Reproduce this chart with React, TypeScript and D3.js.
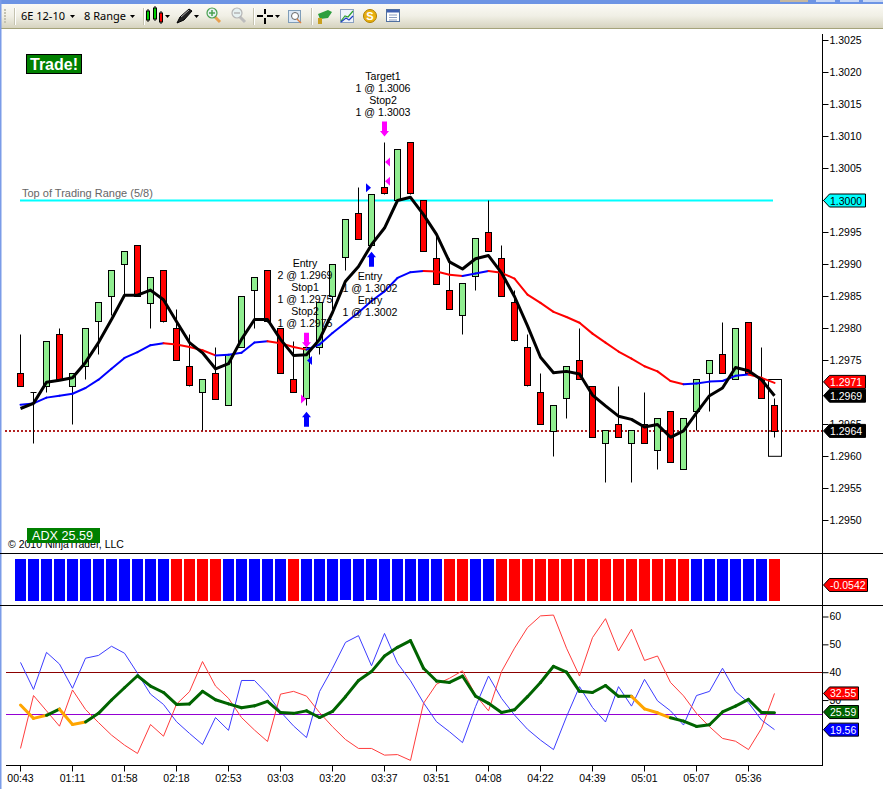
import React, { useEffect, useRef } from 'react';
import * as d3 from 'd3';

const W = 883;
const H = 789;
const FONT = '"Liberation Sans", Arial, sans-serif';

// price panel, in 1/10000 above 1
const opens = [12973,12970,12971,12979,12971,12974,12981,12985,12990,12993,12984,12989,12980,12974,12970,12973,12968,12977,12986,12989,12980,12972,12969,12977,12985,12991,12998,12993,13002,13000,13009,13000,12991,12986,12982,12988,12995,12991,12984,12977,12970,12964,12969,12975,12971,12962,12965,12962,12965,12961,12967,12958,12967,12973,12976,12972,12981,12972,12968];
const highs = [12979,12970,12978,12980,12973,12980,12984,12989,12992,12993,12988,12989,12983,12979,12972,12977,12976,12985,12988,12989,12980,12978,12977,12984,12990,12997,13002,13001,13009,13008,13009,13000,12995,12991,12987,12994,13000,12993,12986,12979,12973,12968,12974,12980,12971,12964,12971,12964,12970,12966,12967,12966,12972,12975,12981,12980,12981,12977,12969];
const lows = [12971,12962,12970,12972,12965,12972,12976,12982,12985,12985,12980,12981,12975,12971,12964,12969,12968,12977,12980,12981,12973,12970,12968,12976,12983,12989,12994,12993,13001,13000,13001,12992,12987,12983,12979,12986,12992,12985,12978,12971,12965,12960,12966,12972,12963,12956,12963,12956,12962,12958,12959,12958,12964,12967,12973,12972,12973,12969,12963];
const closes = [12971,12970,12978,12972,12973,12980,12984,12989,12992,12985,12988,12981,12975,12971,12972,12969,12976,12985,12988,12981,12973,12970,12977,12984,12990,12997,12994,13001,13001,13008,13001,12992,12987,12983,12987,12994,12992,12985,12978,12971,12965,12968,12974,12972,12963,12964,12963,12964,12962,12966,12959,12966,12972,12975,12973,12980,12973,12969,12964];

const fastLine = [12967.5,12968.3,12971.6,12971.9,12972.3,12974.7,12977.8,12981.4,12985.2,12985.2,12986,12984.5,12981.1,12977.8,12976.2,12973.7,12974.5,12978.3,12981.4,12981.4,12978.3,12975.8,12975.9,12978.3,12982.5,12987.4,12989.7,12993.1,12995.7,13000,13000.5,12997.8,12994.7,12990.4,12989.3,12990.9,12991.4,12988.7,12985,12980.4,12975.5,12973.1,12973.3,12972.9,12969.6,12967.9,12966.3,12965.8,12964.6,12965,12963,12964,12966.8,12969.5,12970.7,12973.9,12973.4,12972,12969.5];
const slowLine = [12968.1,12968.3,12969.2,12969.5,12969.8,12970.7,12972,12973.7,12975.4,12976.3,12977.4,12977.7,12977.5,12977.1,12976.6,12975.8,12975.9,12976.2,12977.8,12978,12977.7,12977.1,12976.7,12977.5,12979.3,12980.9,12982.5,12984.3,12985.8,12987.9,12988.8,12989,12988.9,12988.4,12988.2,12988.6,12989,12988.7,12987.8,12985.3,12984,12982.6,12981.8,12980.9,12979.2,12977.8,12976.4,12975.3,12974.1,12973.3,12971.8,12971.3,12971.4,12971.7,12971.8,12972.6,12972.8,12972.3,12971.5];

// 1.2970 sits under the value tags in the picture, so it has no label here
const priceTicks = [13025,13020,13015,13010,13005,13000,12995,12990,12985,12980,12975,12965,12960,12955,12950];
const timeLabels = ['00:43','01:11','01:58','02:18','02:53','03:03','03:20','03:37','03:51','04:08','04:22','04:39','05:01','05:07','05:36'];

const rangeLevel = 13000;
const dottedLevel = 12964;
const lastBarBox = [12972, 12960];

// trade markers: bar index and price in the same units
const upArrows = [[22, 12967], [27, 12992]];
const downArrows = [[22, 12977], [28, 13010]];
const rightFlags = [[22, 12969, '#ff00ff'], [27, 13002, '#0000ff']];
const leftFlags = [[22, 12975, '#0000ff'], [28, 13006, '#ff00ff'], [28, 13003, '#ff00ff']];
const tradeNotes = [
  { bar: 28, price: 13018.8, lines: ['Target1', '1 @ 1.3006', 'Stop2', '1 @ 1.3003'] },
  { bar: 22, price: 12989.6, lines: ['Entry', '2 @ 1.2969', 'Stop1', '1 @ 1.2975', 'Stop2', '1 @ 1.2975'] },
  { bar: 27, price: 12987.6, lines: ['Entry', '1 @ 1.3002', 'Entry', '1 @ 1.3002'] },
];

// middle panel, sign gives the colour
const trendBars = [1,1,1,1,1,1,1,1,1,1,1,1,-1,-1,-1,-1,1,1,1,1,1,-1,1,1,1,0.976,1,0.976,1,1,1,1,1,-1,-1,1,1,-1,-1,-1,-1,-1,-1,-1,-1,-1,-1,-1,-1,-1,-1,-1,1,1,1,1,1,1,-1];

// lower panel
const diPlus = [43.7,34,47.3,43.1,34.4,45.2,46.2,49.5,47,39.8,32.3,28.6,22.4,18.2,14.2,23.9,19.3,37.2,37.2,32.3,26,20.9,16.7,33.2,41.6,50.9,53.3,42.5,54.1,43.4,37.1,29.2,22.4,18.8,14.9,27.8,38.8,30.8,24.8,19.7,15.8,12.4,24.2,35,27.5,22.3,35,28,37.6,29.9,26.3,21.2,31.8,33.3,41.6,33.3,29.2,23,19.56];
const diMinus = [12.8,31.8,26.3,20.8,33.8,26.8,22.1,17.6,14,11,21.4,17.2,28.7,33.2,44,35.2,30.8,23.9,19.4,15.3,32.3,33.3,31.6,25.7,20.6,16,12.8,12.8,10.4,10.6,8.5,29,35.9,38,40.7,32,26.3,40.4,48.8,56.2,60.4,60.7,48.8,38.8,52.6,59.4,47.8,55.6,44.4,46,36.5,31.7,25.4,20.6,16.4,15.4,12.4,20,32.55];
const adx = [28.4,23.6,24.7,26.9,21.4,22.3,25.4,30.2,34.6,38.9,35.2,32.9,28.6,28.8,33.3,30.3,28.8,27.4,28.1,29.7,25.7,25.4,26.3,23.9,26.1,31.4,37.2,40.4,46,49.1,51.5,41.6,37,36.5,38.8,31.6,29,25.7,26.7,31.4,36.5,42.3,40.2,33.3,32.9,35.4,31.5,31.5,27,25.6,23.8,22.6,20.7,21.3,25.9,28,30.4,25.7,25.59];
const adxOrangeSegments = [0, 1, 3, 4, 47, 48, 49];
const adxTicks = [60, 50, 40, 30];
const adxLevels = [[40, '#8b0000'], [25, '#9400d3']];

function tagPath(w: number) {
  return `M0 0L6 -6.5H${w}V6.5H6Z`;
}

function App() {
  const svgRef = useRef(null);

  useEffect(() => {
    document.body.style.margin = '0';
    const svg = d3.select(svgRef.current);
    svg.selectAll('*').remove();

    const n = closes.length;
    const x = d3.scaleLinear().domain([0, n - 1]).range([20.5, 774.5]);
    const y = d3.scaleLinear().domain([12950, 13025]).range([520.5, 40.5]);
    const yAdx = d3.scaleLinear().domain([60, 40]).range([617, 672.7]);
    const barH = d3.scaleLinear().domain([0, 1]).range([0, 42]);
    const crisp = (v: number) => Math.floor(v) + 0.5;

    svg.append('rect').attr('width', W).attr('height', H).attr('fill', '#fff');

    // toolbar
    drawToolbar(svg);

    // fixed text behind the candles
    svg.append('text').attr('x', 22).attr('y', 197).attr('font-size', 11).attr('fill', '#666')
      .text('Top of Trading Range (5/8)');

    // reference levels
    svg.append('line').attr('x1', 5).attr('x2', 822).attr('y1', y(dottedLevel)).attr('y2', y(dottedLevel))
      .attr('stroke', '#b22222').attr('stroke-width', 2).attr('stroke-dasharray', '2 2');
    svg.append('line').attr('x1', 20).attr('x2', 773).attr('y1', y(rangeLevel)).attr('y2', y(rangeLevel))
      .attr('stroke', '#00ffff').attr('stroke-width', 2);

    // candles
    const idx = d3.range(n);
    const candles = svg.append('g');
    candles.selectAll('line').data(idx).join('line')
      .attr('x1', (i) => x(i)).attr('x2', (i) => x(i))
      .attr('y1', (i) => crisp(y(highs[i]))).attr('y2', (i) => crisp(y(lows[i])))
      .attr('stroke', '#000');
    candles.selectAll('rect').data(idx.filter((i) => opens[i] !== closes[i])).join('rect')
      .attr('x', (i) => x(i) - 3)
      .attr('width', 6)
      .attr('y', (i) => crisp(y(Math.max(opens[i], closes[i]))))
      .attr('height', (i) => Math.round(Math.abs(y(opens[i]) - y(closes[i]))))
      .attr('fill', (i) => (closes[i] > opens[i] ? '#90ee90' : '#ff0000'))
      .attr('stroke', '#000');
    candles.selectAll('.doji').data(idx.filter((i) => opens[i] === closes[i])).join('line')
      .attr('class', 'doji')
      .attr('x1', (i) => x(i) - 3).attr('x2', (i) => x(i) + 3)
      .attr('y1', (i) => crisp(y(opens[i]))).attr('y2', (i) => crisp(y(opens[i])))
      .attr('stroke', '#000');

    // box round the last bar
    svg.append('rect').attr('x', x(n - 1) - 6).attr('width', 13)
      .attr('y', crisp(y(lastBarBox[0]))).attr('height', y(lastBarBox[1]) - y(lastBarBox[0]))
      .attr('fill', 'none').attr('stroke', '#000');

    // moving averages, blue while rising and red while falling
    const priceLine = d3.line<number>().x((d, i) => x(i)).y((d) => y(d));
    svg.append('g').selectAll('line').data(d3.range(n - 1)).join('line')
      .attr('x1', (i) => x(i)).attr('x2', (i) => x(i + 1))
      .attr('y1', (i) => y(slowLine[i])).attr('y2', (i) => y(slowLine[i + 1]))
      .attr('stroke', (i) => (slowLine[i + 1] >= slowLine[i] ? '#0000ff' : '#ff0000'))
      .attr('stroke-width', 2).attr('stroke-linecap', 'round');
    svg.append('path').attr('d', priceLine(fastLine)).attr('fill', 'none')
      .attr('stroke', '#000').attr('stroke-width', 3).attr('stroke-linejoin', 'round');

    // trade markers
    const markers = svg.append('g');
    upArrows.forEach(([b, p]) => {
      markers.append('path').attr('d', 'M0 0L4.5 5.5H2.5V15H-2.5V5.5H-4.5Z')
        .attr('transform', `translate(${x(b)},${y(p)})`).attr('fill', '#0000ff');
    });
    downArrows.forEach(([b, p]) => {
      markers.append('path').attr('d', 'M0 0L4.5 -5.5H2.5V-15H-2.5V-5.5H-4.5Z')
        .attr('transform', `translate(${x(b)},${y(p)})`).attr('fill', '#ff00ff');
    });
    rightFlags.forEach(([b, p, c]) => {
      markers.append('path').attr('d', 'M-5.5 -4.5L-0.5 0L-5.5 4.5Z')
        .attr('transform', `translate(${x(b as number)},${y(p as number)})`).attr('fill', c as string);
    });
    leftFlags.forEach(([b, p, c]) => {
      markers.append('path').attr('d', 'M5.5 -4.5L0.5 0L5.5 4.5Z')
        .attr('transform', `translate(${x(b as number)},${y(p as number)})`).attr('fill', c as string);
    });
    tradeNotes.forEach((note) => {
      const t = svg.append('text').attr('text-anchor', 'middle').attr('font-size', 10.6).attr('fill', '#000');
      note.lines.forEach((s, k) => {
        t.append('tspan').attr('x', x(note.bar) - 1.5).attr('y', y(note.price) + k * 12).text(s);
      });
    });

    // Trade! button
    svg.append('rect').attr('x', 26.5).attr('y', 54.5).attr('width', 55).attr('height', 19)
      .attr('fill', '#008000').attr('stroke', '#000');
    svg.append('text').attr('x', 54).attr('y', 69.5).attr('text-anchor', 'middle')
      .attr('font-size', 16).attr('font-weight', 'bold').attr('fill', '#fff').text('Trade!');

    // copyright with the ADX box over it
    svg.append('text').attr('x', 8).attr('y', 548).attr('font-size', 10.5).attr('fill', '#000')
      .text('© 2010 NinjaTrader, LLC');
    svg.append('rect').attr('x', 27).attr('y', 528).attr('width', 73).attr('height', 15).attr('fill', '#008000');
    svg.append('text').attr('x', 32).attr('y', 540).attr('font-size', 12.6).attr('fill', '#fff').text('ADX 25.59');

    // middle panel bars
    svg.append('g').selectAll('rect').data(trendBars).join('rect')
      .attr('x', (d, i) => x(i) - 5.5)
      .attr('y', 559)
      .attr('width', 11)
      .attr('height', (d) => barH(Math.abs(d)))
      .attr('fill', (d) => (d > 0 ? '#0000ff' : '#ff0000'));

    // lower panel
    adxLevels.forEach(([v, c]) => {
      svg.append('line').attr('x1', 6).attr('x2', 822).attr('y1', crisp(yAdx(v as number))).attr('y2', crisp(yAdx(v as number)))
        .attr('stroke', c as string);
    });
    const adxLine = d3.line<number>().x((d, i) => x(i)).y((d) => yAdx(d));
    svg.append('path').attr('d', adxLine(diPlus)).attr('fill', 'none').attr('stroke', '#3c3cff').attr('stroke-width', 1);
    svg.append('path').attr('d', adxLine(diMinus)).attr('fill', 'none').attr('stroke', '#ff3c3c').attr('stroke-width', 1);
    svg.append('g').selectAll('line').data(d3.range(n - 1)).join('line')
      .attr('x1', (i) => x(i)).attr('x2', (i) => x(i + 1))
      .attr('y1', (i) => yAdx(adx[i])).attr('y2', (i) => yAdx(adx[i + 1]))
      .attr('stroke', (i) => (adxOrangeSegments.includes(i) ? '#ffa500' : '#006400'))
      .attr('stroke-width', 3).attr('stroke-linecap', 'round');

    // panel frame
    svg.append('g').call((g) => {
      g.append('line').attr('x1', 0).attr('x2', W).attr('y1', 553.5).attr('y2', 553.5).attr('stroke', '#000');
      g.append('line').attr('x1', 0).attr('x2', W).attr('y1', 605.5).attr('y2', 605.5).attr('stroke', '#000');
      g.append('line').attr('x1', 822.5).attr('x2', 822.5).attr('y1', 34).attr('y2', 766).attr('stroke', '#000');
      g.append('line').attr('x1', 6).attr('x2', 823).attr('y1', 765.5).attr('y2', 765.5).attr('stroke', '#000');
    });

    // axes
    const priceAxis = d3.axisRight(y).tickValues(priceTicks).tickSize(6).tickPadding(1).offset(0)
      .tickFormat((d) => d3.format('.4f')(+d / 10000));
    const gp = svg.append('g').attr('transform', 'translate(822.5,0)').call(priceAxis);
    gp.select('.domain').remove();
    const adxAxis = d3.axisRight(yAdx).tickValues(adxTicks).tickSize(6).tickPadding(1).offset(0);
    const ga = svg.append('g').attr('transform', 'translate(822.5,0)').call(adxAxis);
    ga.select('.domain').remove();
    const timeScale = d3.scalePoint<string>().domain(timeLabels).range([x(0), x(56)]);
    const gt = svg.append('g').attr('transform', 'translate(0,765.5)')
      .call(d3.axisBottom(timeScale).tickSize(6).tickPadding(3).offset(0));
    gt.select('.domain').remove();
    [gp, ga, gt].forEach((g) => {
      g.attr('font-family', FONT).attr('font-size', 10.5);
      g.selectAll('text').attr('fill', '#000');
      g.selectAll('line').attr('stroke', '#000');
    });

    // value tags on the axis
    const addTag = (cy: number, w: number, label: string, fill: string, color: string) => {
      const g = svg.append('g').attr('transform', `translate(823.5,${cy})`);
      g.append('path').attr('d', tagPath(w)).attr('fill', fill).attr('stroke', '#000');
      g.append('text').attr('x', 6.5).attr('y', 4).attr('font-size', 10.5).attr('fill', color).text(label);
    };
    addTag(y(rangeLevel), 42, '1.3000', '#00ffff', '#000');
    addTag(y(slowLine[n - 1]) - 1, 42, '1.2971', '#ff0000', '#fff');
    addTag(y(fastLine[n - 1]), 42, '1.2969', '#000', '#fff');
    addTag(y(dottedLevel), 42, '1.2964', '#000', '#fff');
    addTag(585, 44, '-0.0542', '#ff0000', '#fff');
    addTag(yAdx(diMinus[n - 1]), 35, '32.55', '#ff0000', '#fff');
    addTag(yAdx(adx[n - 1]) - 0.8, 35, '25.59', '#006400', '#fff');
    addTag(yAdx(diPlus[n - 1]), 35, '19.56', '#0000ff', '#fff');
  }, []);

  return (
    <svg
      ref={svgRef}
      width={W}
      height={H}
      viewBox={`0 0 ${W} ${H}`}
      style={{ position: 'absolute', left: 0, top: 0, display: 'block', fontFamily: FONT }}
    />
  );
}

function drawToolbar(svg: any) {
  const defs = svg.append('defs');
  const grad = defs.append('linearGradient').attr('id', 'bar').attr('x1', 0).attr('x2', 0).attr('y1', 0).attr('y2', 1);
  grad.append('stop').attr('offset', '0').attr('stop-color', '#fbfaf5');
  grad.append('stop').attr('offset', '0.5').attr('stop-color', '#f0efe5');
  grad.append('stop').attr('offset', '1').attr('stop-color', '#d6d3bf');

  svg.append('rect').attr('width', W).attr('height', 4).attr('fill', '#6d94e4');
  [[780, 28, '#c6b8a0'], [816, 19, '#c9d8f5'], [840, 19, '#c9d8f5'], [863, 20, '#c9d8f5']].forEach(([tx, tw, c]) => {
    svg.append('rect').attr('x', tx).attr('width', tw).attr('height', 2).attr('fill', c);
  });
  svg.append('rect').attr('y', 4).attr('width', W).attr('height', 24).attr('fill', 'url(#bar)');
  svg.append('rect').attr('y', 28).attr('width', W).attr('height', 1).attr('fill', '#a5a37a');
  svg.append('rect').attr('y', 0).attr('width', 1.5).attr('height', H).attr('fill', '#7b9ce8');

  const t = svg.append('g');
  [9, 12, 15, 18, 21].forEach((dy) => t.append('rect').attr('x', 4).attr('y', dy).attr('width', 2).attr('height', 2).attr('fill', '#c4c2b2'));
  [14, 143, 253, 311].forEach((sx) => {
    t.append('line').attr('x1', sx + 0.5).attr('x2', sx + 0.5).attr('y1', 8).attr('y2', 25).attr('stroke', '#c5c3b0');
    t.append('line').attr('x1', sx + 1.5).attr('x2', sx + 1.5).attr('y1', 8).attr('y2', 25).attr('stroke', '#fff');
  });
  t.append('text').attr('x', 21).attr('y', 20).attr('font-size', 11).attr('font-family', '"Noto Sans"').attr('fill', '#000').text('6E 12-10');
  t.append('text').attr('x', 84).attr('y', 20).attr('font-size', 11).attr('font-family', '"Noto Sans"').attr('fill', '#000').text('8 Range');
  [72.5, 132.5, 167.5, 196.5, 277.5].forEach((ax) => {
    t.append('path').attr('d', `M${ax - 2.5} 15H${ax + 2.5}L${ax} 18Z`).attr('fill', '#000');
  });

  // candle icon
  [[148, 11, 9, '#00d000'], [155, 8, 11, '#00d000'], [161, 13, 9, '#ff0000']].forEach(([ix, iy, ih, c]) => {
    t.append('line').attr('x1', ix).attr('x2', ix).attr('y1', iy - 2).attr('y2', iy + ih + 2).attr('stroke', '#000');
    t.append('rect').attr('x', ix - 1.5).attr('y', iy).attr('width', 3).attr('height', ih).attr('fill', c).attr('stroke', '#000');
  });
  // pencil
  t.append('path').attr('d', 'M177 23L180 17L189 9L192 11L184 20Z').attr('fill', '#222').attr('stroke', '#000');
  t.append('line').attr('x1', 181).attr('x2', 189).attr('y1', 17).attr('y2', 10).attr('stroke', '#aaa');
  // magnifiers
  [[212, '#4aa050', '#e8a050', true], [237, '#b5b5b5', '#bcbcbc', false]].forEach(([mx, ring, handle, plus]) => {
    t.append('line').attr('x1', +mx + 3).attr('x2', +mx + 8).attr('y1', 17).attr('y2', 22).attr('stroke', handle).attr('stroke-width', 3);
    t.append('circle').attr('cx', mx).attr('cy', 13).attr('r', 5).attr('fill', '#e6f1f1').attr('stroke', ring).attr('stroke-width', 1.2);
    t.append('line').attr('x1', +mx - 3).attr('x2', +mx + 3).attr('y1', 13).attr('y2', 13).attr('stroke', ring).attr('stroke-width', 1.5);
    if (plus) t.append('line').attr('x1', mx).attr('x2', mx).attr('y1', 10).attr('y2', 16).attr('stroke', ring).attr('stroke-width', 1.5);
  });
  // crosshair
  t.append('path').attr('d', 'M257 16H263M267 16H273M265 9V14M265 18V24').attr('stroke', '#000').attr('stroke-width', 2);
  // properties box
  t.append('rect').attr('x', 288.5).attr('y', 10.5).attr('width', 12).attr('height', 12).attr('fill', '#dce8f5').attr('stroke', '#7f9db9');
  t.append('circle').attr('cx', 295).attr('cy', 16).attr('r', 3.5).attr('fill', '#fff').attr('stroke', '#666');
  t.append('line').attr('x1', 297).attr('x2', 301).attr('y1', 19).attr('y2', 23).attr('stroke', '#e08040').attr('stroke-width', 1.5);
  // instruments icon
  t.append('path').attr('d', 'M318 14L328 10L332 12L328 18L320 19Z').attr('fill', '#2e9e3e');
  t.append('rect').attr('x', 318).attr('y', 18).attr('width', 4).attr('height', 6).attr('fill', '#c9a020');
  // chart icon
  t.append('rect').attr('x', 340.5).attr('y', 9.5).attr('width', 13).attr('height', 13).attr('fill', '#eef3fa').attr('stroke', '#8aa0c0');
  t.append('path').attr('d', 'M341 21L345 16L348 17L353 11').attr('fill', 'none').attr('stroke', '#30a030').attr('stroke-width', 1.2);
  t.append('path').attr('d', 'M341 22L346 18L349 20L353 16').attr('fill', 'none').attr('stroke', '#2040c0').attr('stroke-width', 1.2);
  // coin
  t.append('circle').attr('cx', 370).attr('cy', 16).attr('r', 6.5).attr('fill', '#e8b010').attr('stroke', '#b08000');
  t.append('text').attr('x', 370).attr('y', 20).attr('text-anchor', 'middle').attr('font-size', 11).attr('font-weight', 'bold').attr('fill', '#fff').text('S');
  // table icon
  t.append('rect').attr('x', 386.5).attr('y', 9.5).attr('width', 13).attr('height', 12).attr('fill', '#fff').attr('stroke', '#5070a0');
  t.append('rect').attr('x', 387).attr('y', 10).attr('width', 12).attr('height', 2.5).attr('fill', '#4060b0');
  t.append('path').attr('d', 'M389 15H397M389 17.5H397M389 20H397').attr('stroke', '#8a9cc0');
}

export default App;
